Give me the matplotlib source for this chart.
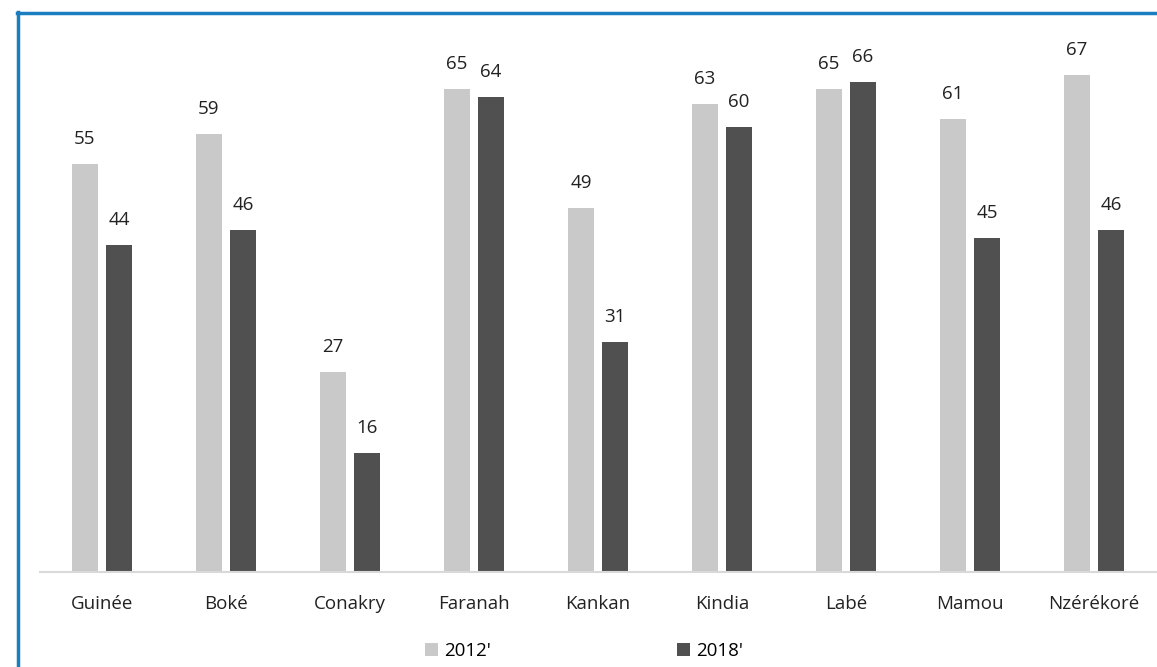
import numpy as np
import matplotlib.pyplot as plt
from matplotlib.lines import Line2D

# Data
regions = ['Guinée', 'Boké', 'Conakry', 'Faranah', 'Kankan', 'Kindia', 'Labé', 'Mamou', 'Nzérékoré']
vals_2012 = [55, 59, 27, 65, 49, 63, 65, 61, 67]
vals_2018 = [44, 46, 16, 64, 31, 60, 66, 45, 46]
series_labels = ["2012'", "2018'"]

plt.rcParams['font.family'] = ['Open Sans', 'DejaVu Sans']

fig = plt.figure(figsize=(11.57, 6.67), dpi=100)
ax = fig.add_axes([40 / 1157, 95 / 667, 1116 / 1157, 542 / 667])

x = np.arange(len(regions))
w = 0.215
off = 0.138
b1 = ax.bar(x - off, vals_2012, w, color='#c9c9c9', label=series_labels[0])
b2 = ax.bar(x + off, vals_2018, w, color='#505050', label=series_labels[1])

for bars in (b1, b2):
    for rect in bars:
        h = rect.get_height()
        ax.annotate(f'{h:g}', (rect.get_x() + rect.get_width() / 2, h),
                    xytext=(0, 11.5), textcoords='offset points',
                    ha='center', va='bottom', fontsize=13.5, color='#222222')

ax.set_xlim(-0.5, len(regions) - 0.5)
ax.set_ylim(0, 73)
ax.set_xticks(x)
ax.set_xticklabels(regions, fontsize=13.5, color='#222222')
ax.tick_params(axis='x', length=0, pad=16.5)
ax.set_yticks([])
for s in ['top', 'right', 'left']:
    ax.spines[s].set_visible(False)
ax.spines['bottom'].set_color('#d9d9d9')
ax.spines['bottom'].set_linewidth(1.5)

fig.legend(loc='center', bbox_to_anchor=(584 / 1157, 1 - 651 / 667), ncol=2,
           frameon=False, fontsize=13.5, handlelength=0.7, handleheight=0.7,
           handletextpad=0.35, columnspacing=9.9)

# blue frame
fig.add_artist(Line2D([18 / 1157, 18 / 1157], [0, 1 - 12 / 667], color='#1a7dc0', lw=2.5, transform=fig.transFigure))
fig.add_artist(Line2D([17 / 1157, 1], [1 - 13 / 667, 1 - 13 / 667], color='#1a7dc0', lw=2.5, transform=fig.transFigure))

fig.savefig('out.png', dpi=100)
